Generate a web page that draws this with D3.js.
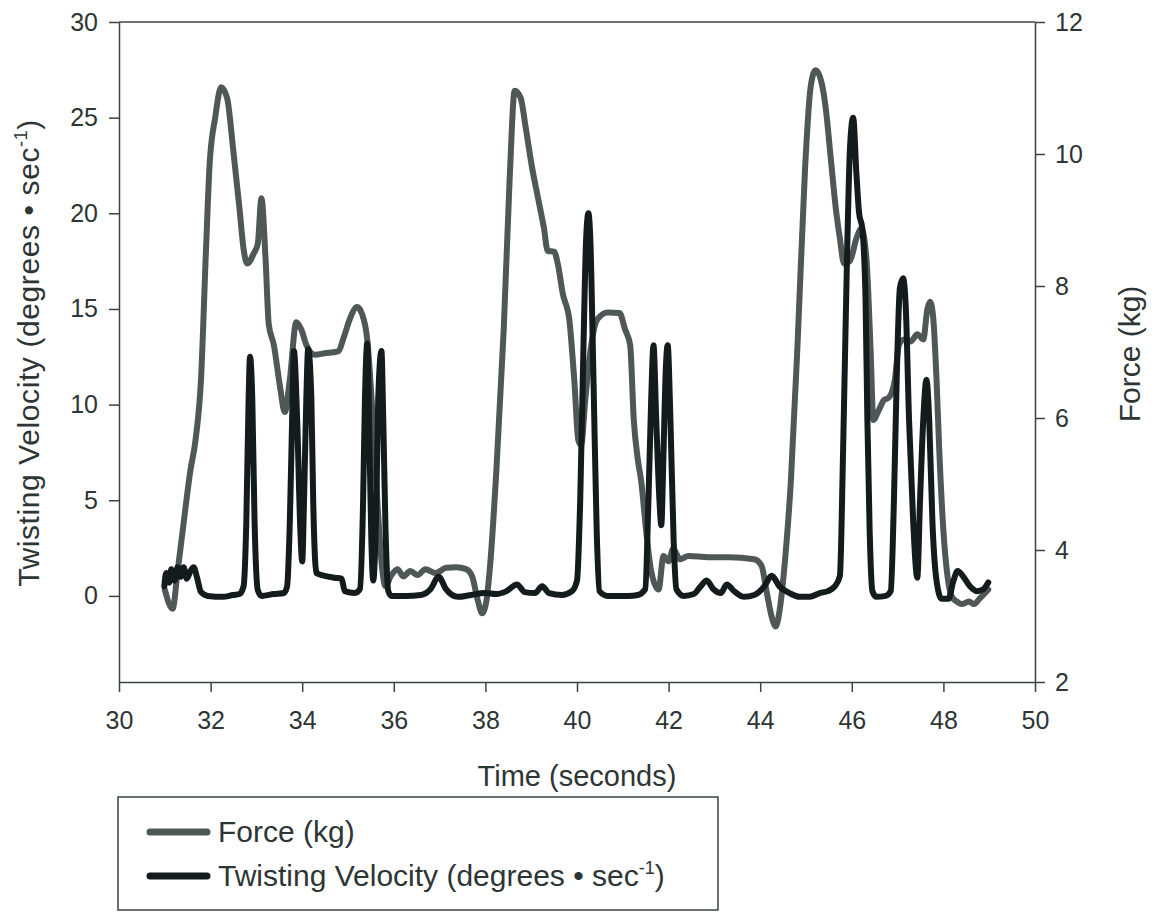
<!DOCTYPE html>
<html>
<head>
<meta charset="utf-8">
<script src="https://cdn.jsdelivr.net/npm/d3@7"></script>
<style>
  body { margin: 0; background: #fff; }
  text { font-family: "Liberation Sans", Arial, Helvetica, sans-serif; fill: #2e3535; }
</style>
</head>
<body>
<svg width="1160" height="912"></svg>
<script>
// time axis ticks and the two y axes
const timeTicks = [30, 32, 34, 36, 38, 40, 42, 44, 46, 48, 50]
const velocityTicks = [0, 5, 10, 15, 20, 25, 30]
const forceTicks = [2, 4, 6, 8, 10, 12]

// Force (kg)
const forceTime = [31.0, 31.17, 31.28, 31.39, 31.56, 31.67, 31.79, 31.9, 31.98, 32.1, 32.23, 32.36, 32.49, 32.63, 32.72, 32.8, 32.94, 33.03, 33.11, 33.2, 33.27, 33.38, 33.51, 33.62, 33.73, 33.87, 33.98, 34.09, 34.27, 34.49, 34.78, 34.93, 35.04, 35.2, 35.31, 35.42, 35.53, 35.64, 35.73, 35.82, 35.93, 36.08, 36.21, 36.36, 36.52, 36.69, 36.91, 37.14, 37.36, 37.58, 37.71, 37.84, 37.93, 38.02, 38.11, 38.24, 38.4, 38.53, 38.64, 38.77, 38.88, 39.02, 39.15, 39.28, 39.36, 39.5, 39.58, 39.69, 39.83, 39.94, 40.03, 40.09, 40.18, 40.27, 40.45, 40.67, 40.93, 41.05, 41.16, 41.24, 41.33, 41.4, 41.51, 41.62, 41.78, 41.89, 42.0, 42.1, 42.25, 42.43, 42.87, 43.32, 43.87, 44.03, 44.14, 44.25, 44.34, 44.42, 44.54, 44.67, 44.82, 44.98, 45.1, 45.21, 45.34, 45.43, 45.54, 45.65, 45.74, 45.83, 45.96, 46.1, 46.21, 46.32, 46.41, 46.47, 46.59, 46.7, 46.81, 46.94, 47.03, 47.14, 47.29, 47.43, 47.56, 47.65, 47.71, 47.78, 47.85, 47.91, 48.0, 48.09, 48.18, 48.29, 48.4, 48.56, 48.67, 48.8, 48.98]
const forceValues = [3.4, 3.11, 3.68, 4.29, 5.21, 5.66, 6.58, 8.56, 9.86, 10.55, 11.01, 10.85, 10.09, 9.18, 8.56, 8.34, 8.49, 8.64, 9.33, 8.41, 7.42, 7.11, 6.5, 6.09, 6.58, 7.45, 7.34, 7.11, 6.96, 6.98, 7.01, 7.27, 7.5, 7.68, 7.57, 7.19, 6.12, 4.75, 3.83, 3.45, 3.6, 3.71, 3.6, 3.68, 3.62, 3.71, 3.65, 3.73, 3.74, 3.71, 3.6, 3.22, 3.04, 3.22, 3.83, 5.21, 7.34, 9.63, 10.96, 10.85, 10.4, 9.79, 9.33, 8.87, 8.53, 8.52, 8.34, 7.88, 7.5, 6.58, 5.66, 5.59, 6.27, 6.89, 7.5, 7.6, 7.59, 7.34, 7.11, 5.97, 5.36, 5.05, 4.29, 3.68, 3.4, 3.91, 3.83, 4.02, 3.86, 3.91, 3.89, 3.89, 3.86, 3.76, 3.37, 2.99, 2.84, 3.07, 3.83, 5.05, 7.19, 9.79, 11.01, 11.27, 11.08, 10.7, 9.94, 9.18, 8.72, 8.34, 8.38, 8.72, 8.87, 8.41, 7.04, 5.97, 6.12, 6.27, 6.31, 6.58, 7.11, 7.19, 7.16, 7.27, 7.19, 7.65, 7.76, 7.5, 6.58, 5.51, 4.29, 3.6, 3.3, 3.22, 3.18, 3.22, 3.18, 3.27, 3.4]

// Twisting velocity (degrees/sec)
const velocityTime = [30.99, 31.03, 31.1, 31.14, 31.21, 31.28, 31.34, 31.41, 31.48, 31.56, 31.63, 31.7, 31.79, 31.94, 32.27, 32.49, 32.63, 32.72, 32.78, 32.83, 32.86, 32.91, 32.96, 33.03, 33.11, 33.38, 33.6, 33.67, 33.73, 33.78, 33.82, 33.89, 33.96, 34.0, 34.04, 34.09, 34.13, 34.2, 34.24, 34.31, 34.49, 34.71, 34.86, 34.93, 35.15, 35.26, 35.33, 35.37, 35.42, 35.46, 35.51, 35.55, 35.62, 35.66, 35.73, 35.77, 35.82, 35.88, 35.95, 36.26, 36.59, 36.8, 36.98, 37.14, 37.4, 37.69, 37.98, 38.24, 38.46, 38.69, 38.86, 39.08, 39.24, 39.39, 39.67, 39.89, 40.0, 40.07, 40.14, 40.2, 40.25, 40.29, 40.36, 40.43, 40.49, 40.67, 41.11, 41.33, 41.49, 41.56, 41.62, 41.67, 41.73, 41.8, 41.84, 41.89, 41.93, 41.98, 42.04, 42.11, 42.17, 42.33, 42.55, 42.7, 42.83, 42.98, 43.14, 43.27, 43.43, 43.65, 43.87, 44.09, 44.25, 44.42, 44.64, 44.86, 45.08, 45.3, 45.48, 45.63, 45.74, 45.81, 45.9, 45.96, 46.03, 46.1, 46.16, 46.23, 46.3, 46.34, 46.39, 46.45, 46.54, 46.74, 46.85, 46.92, 46.98, 47.05, 47.12, 47.18, 47.25, 47.34, 47.43, 47.49, 47.56, 47.63, 47.69, 47.76, 47.85, 47.96, 48.11, 48.22, 48.31, 48.45, 48.58, 48.73, 48.87, 48.98]
const velocityValues = [0.5, 1.2, 0.7, 1.4, 0.8, 1.5, 1.0, 1.5, 0.9, 1.3, 1.5, 1.0, 0.2, 0.0, -0.05, 0.05, 0.1, 0.5, 3.9, 10.3, 12.5, 10.3, 3.9, 0.3, 0.0, 0.1, 0.15, 0.5, 3.9, 9.2, 12.8, 9.2, 3.4, 1.8, 5.0, 10.3, 12.9, 10.3, 5.0, 1.2, 1.05, 0.95, 0.9, 0.25, 0.15, 0.35, 5.0, 10.3, 13.2, 9.2, 2.9, 0.8, 5.0, 10.3, 12.8, 9.2, 3.4, 0.25, 0.0, 0.0, 0.05, 0.35, 1.0, 0.35, -0.05, 0.05, 0.15, 0.1, 0.25, 0.6, 0.2, 0.15, 0.5, 0.15, 0.05, 0.25, 0.8, 5.0, 12.9, 18.7, 20.0, 18.7, 11.3, 3.4, 0.25, 0.0, 0.0, 0.05, 0.35, 5.0, 10.3, 13.1, 9.2, 5.0, 3.7, 7.6, 11.3, 13.1, 9.2, 2.9, 0.35, 0.0, 0.1, 0.5, 0.8, 0.35, 0.15, 0.6, 0.25, -0.05, 0.05, 0.5, 1.05, 0.5, 0.15, -0.05, -0.05, 0.15, 0.25, 0.5, 1.05, 7.6, 18.2, 23.4, 25.0, 22.1, 20.0, 19.2, 15.5, 9.2, 3.4, 0.25, -0.05, 0.0, 0.25, 5.0, 11.3, 16.1, 16.6, 15.0, 9.2, 3.9, 0.95, 5.0, 9.2, 11.3, 9.2, 3.9, 0.8, -0.15, -0.15, 0.8, 1.3, 0.95, 0.5, 0.25, 0.35, 0.7]

const forceData = forceTime.map((t, i) => [t, forceValues[i]])
const velocityData = velocityTime.map((t, i) => [t, velocityValues[i]])

// plot area
const margin = { top: 22, right: 125, bottom: 230, left: 119 },
    width = 1160 - margin.left - margin.right,
    height = 912 - margin.top - margin.bottom

const axisColor = "#3a4343"
const forceColor = "#4f5757"
const velocityColor = "#141b1c"

let svg = d3.select("svg")
let g = svg.append("g")
    .attr("transform", `translate(${margin.left},${margin.top})`)

let xScale = d3.scaleLinear().domain([30, 50]).range([0, width])
let yLeft = d3.scaleLinear().domain([-4.5, 30]).range([height, 0])
let yRight = d3.scaleLinear().domain([2, 12]).range([height, 0])

// frame on top
g.append("line")
    .attr("x1", 0).attr("x2", width)
    .attr("y1", 0).attr("y2", 0)
    .attr("stroke", axisColor).attr("stroke-width", 1.5)

let xAxis = g.append("g")
    .attr("transform", `translate(0,${height})`)
    .call(d3.axisBottom(xScale).tickValues(timeTicks).tickSize(10).tickSizeOuter(0).tickPadding(19))

let leftAxis = g.append("g")
    .call(d3.axisLeft(yLeft).tickValues(velocityTicks).tickSize(10).tickSizeOuter(0).tickPadding(11))

let rightAxis = g.append("g")
    .attr("transform", `translate(${width},0)`)
    .call(d3.axisRight(yRight).tickValues(forceTicks).tickSize(10).tickSizeOuter(0).tickPadding(10))

// style the axes
;[xAxis, leftAxis, rightAxis].forEach(a => {
    a.select(".domain").attr("stroke", axisColor).attr("stroke-width", 1.5)
    a.selectAll(".tick line").attr("stroke", axisColor).attr("stroke-width", 1.5)
    a.selectAll(".tick text").attr("font-size", 25).attr("fill", "#2e3535")
        .attr("font-family", "'Liberation Sans', Arial, sans-serif")
})

// lines
let forceLine = d3.line()
    .x(d => xScale(d[0]))
    .y(d => yRight(d[1]))
    .curve(d3.curveMonotoneX)

let velocityLine = d3.line()
    .x(d => xScale(d[0]))
    .y(d => yLeft(d[1]))
    .curve(d3.curveMonotoneX)

g.append("path")
    .datum(forceData)
    .attr("d", forceLine)
    .attr("fill", "none")
    .attr("stroke", forceColor)
    .attr("stroke-width", 6)
    .attr("stroke-linejoin", "round")
    .attr("stroke-linecap", "round")

g.append("path")
    .datum(velocityData)
    .attr("d", velocityLine)
    .attr("fill", "none")
    .attr("stroke", velocityColor)
    .attr("stroke-width", 6)
    .attr("stroke-linejoin", "round")
    .attr("stroke-linecap", "round")

// axis titles
svg.append("text")
    .attr("x", margin.left + width / 2)
    .attr("y", 786)
    .attr("text-anchor", "middle")
    .attr("font-size", 29)
    .text("Time (seconds)")

let leftTitle = svg.append("text")
    .attr("transform", "translate(39,353) rotate(-90)")
    .attr("text-anchor", "middle")
    .attr("font-size", 30)
    .attr("letter-spacing", 0.6)
leftTitle.append("tspan").text("Twisting Velocity (degrees \u2022 sec")
leftTitle.append("tspan").attr("dy", -12).attr("font-size", 18).text("-1")
leftTitle.append("tspan").attr("dy", 12).text(")")

svg.append("text")
    .attr("transform", "translate(1140,354) rotate(-90)")
    .attr("text-anchor", "middle")
    .attr("font-size", 30)
    .text("Force (kg)")

// legend
let legend = svg.append("g")
legend.append("rect")
    .attr("x", 118).attr("y", 797)
    .attr("width", 600).attr("height", 113)
    .attr("fill", "none")
    .attr("stroke", axisColor)
    .attr("stroke-width", 1.5)

let legendItems = [
    { label: "Force (kg)", color: forceColor, y: 832 },
    { label: "Twisting Velocity (degrees \u2022 sec", color: velocityColor, y: 876, sup: true }
]

legendItems.forEach(item => {
    legend.append("line")
        .attr("x1", 150).attr("x2", 207)
        .attr("y1", item.y).attr("y2", item.y)
        .attr("stroke", item.color)
        .attr("stroke-width", 7)
        .attr("stroke-linecap", "round")
    let t = legend.append("text")
        .attr("x", 218).attr("y", item.y + 10)
        .attr("font-size", 30)
    t.append("tspan").text(item.label)
    if (item.sup) {
        t.append("tspan").attr("dy", -12).attr("font-size", 18).text("-1")
        t.append("tspan").attr("dy", 12).text(")")
    }
})
</script>
</body>
</html>
